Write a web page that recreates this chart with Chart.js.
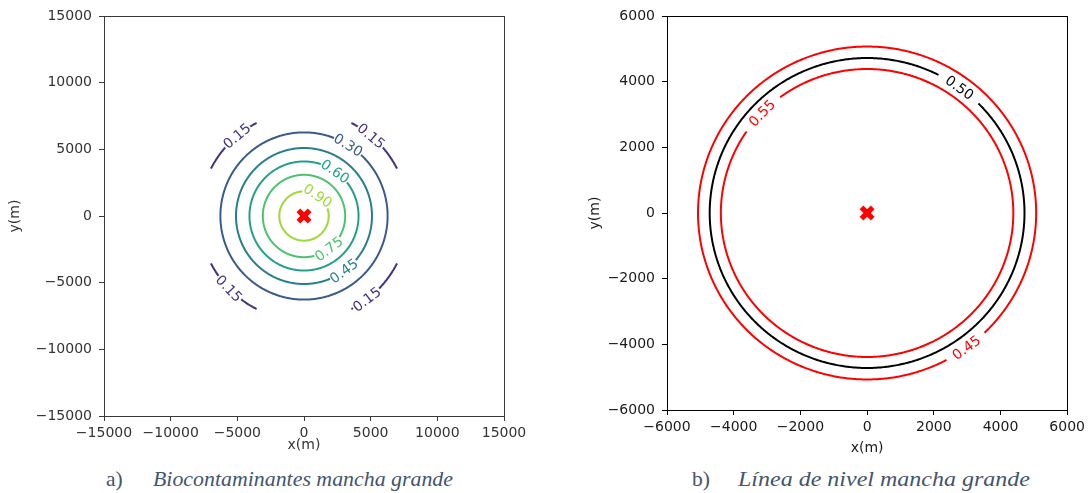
<!DOCTYPE html>
<html>
<head>
<meta charset="utf-8">
<script src="https://cdn.jsdelivr.net/npm/chart.js@4/dist/chart.umd.min.js"></script>
<style>
  html, body { margin: 0; padding: 0; background: #fff; }
  #wrap { position: relative; width: 1089px; height: 493px; overflow: hidden; }
  .panel { position: absolute; top: 0; height: 460px; }
  #pa { left: 0; width: 545px; }
  #pb { left: 545px; width: 544px; }
  .cap { position: absolute; top: 469px; font-family: "Liberation Serif", "Times New Roman", serif;
         font-size: 21.5px; line-height: 1; color: #44546a; white-space: nowrap; transform-origin: 0 50%; }
</style>
</head>
<body>
<div id="wrap">
  <div class="panel" id="pa"><canvas id="chartA"></canvas></div>
  <div class="panel" id="pb"><canvas id="chartB"></canvas></div>
  <div class="cap" style="left:106px">a)</div>
  <div class="cap" style="left:153px" data-w="300"><i>Biocontaminantes mancha grande</i></div>
  <div class="cap" style="left:692px">b)</div>
  <div class="cap" style="left:738px" data-w="292"><i>Línea de nivel mancha grande</i></div>
</div>
<script>
// ---- Panel a: biocontaminant concentration contours ----
const levelsA = [0.15, 0.30, 0.45, 0.60, 0.75, 0.90];
const radiiA = [7830, 6270, 5100, 4090, 3090, 1850];          // contour radius (m)
const labelAnglesA = [[130, 50, -136, -53], [58], [-54], [55], [-53], [56]]; // label position (deg)
const ticksA = [-15000, -10000, -5000, 0, 5000, 10000, 15000];
const domainHalfA = 7000;                                      // half-width of computed grid (m)

// ---- Panel b: level line for the large spill ----
const levelsB = [0.45, 0.50, 0.55];
const radiiB = [5070, 4720, 4385];
const labelAnglesB = [[-54], [54], [136]];
const ticksB = [-6000, -4000, -2000, 0, 2000, 4000, 6000];

// release point
const sourceX = [0];
const sourceY = [0];

// styling
const coloursA = ['#45327d', '#375c8c', '#277f8d', '#22a186', '#4bc26c', '#9fd939'];
const coloursB = ['#ff0000', '#000000', '#ff0000'];

const fmt = v => (v < 0 ? '\u2212' + Math.abs(v) : String(v));

// stretch captions to their set widths
document.querySelectorAll('.cap[data-w]').forEach(el => {
  const w = el.getBoundingClientRect().width;
  el.style.transform = 'scaleX(' + (Number(el.dataset.w) / w) + ')';
});

// filled "X" marker stamp
const xStamp = (() => {
  const c = document.createElement('canvas');
  c.width = 18; c.height = 18;
  const g = c.getContext('2d');
  g.translate(9, 9);
  g.rotate(Math.PI / 4);
  const u = 2.65;
  g.beginPath();
  const p = [[-1,-3],[1,-3],[1,-1],[3,-1],[3,1],[1,1],[1,3],[-1,3],[-1,1],[-3,1],[-3,-1],[-1,-1]];
  p.forEach(([a, b], i) => (i ? g.lineTo(a * u, b * u) : g.moveTo(a * u, b * u)));
  g.closePath();
  g.fillStyle = '#ff0000';
  g.fill();
  return c;
})();

// points along a contour of radius r, cut to the computed square domain
function contourPoints(r, half) {
  const pts = [];
  for (let d = 0; d <= 360; d += 0.5) {
    const a = d * Math.PI / 180;
    const x = r * Math.cos(a), y = r * Math.sin(a);
    if (half && (Math.abs(x) > half + 1e-6 || Math.abs(y) > half + 1e-6)) pts.push({ x: x, y: null });
    else pts.push({ x: x, y: y });
  }
  return pts;
}

function buildContours(levels, radii, angles, colours, half, gapHalf) {
  return levels.map((lv, i) => ({
    label: lv.toFixed(2),
    data: contourPoints(radii[i], half),
    showLine: true,
    pointRadius: 0,
    borderColor: colours[i],
    borderWidth: 2,
    tension: 1e-6,          // keeps the full-precision path (no per-pixel column merging)
    spanGaps: false,
    segment: {
      borderColor: ctx => {
        const { x: xs, y: ys } = ctx.chart.scales;
        const mx = (ctx.p0.x + ctx.p1.x) / 2, my = (ctx.p0.y + ctx.p1.y) / 2;
        for (const deg of angles[i]) {
          const a = deg * Math.PI / 180;
          const lx = xs.getPixelForValue(radii[i] * Math.cos(a));
          const ly = ys.getPixelForValue(radii[i] * Math.sin(a));
          if (Math.hypot(mx - lx, my - ly) < gapHalf) return 'rgba(0,0,0,0)';
        }
        return undefined;
      }
    }
  }));
}

function labelPlugin(levels, radii, angles, colours) {
  return {
    id: 'contourLabels',
    afterDatasetsDraw(chart) {
      const { ctx, scales: { x: xs, y: ys } } = chart;
      ctx.save();
      ctx.font = '14px "DejaVu Sans"';
      ctx.textAlign = 'center';
      ctx.textBaseline = 'middle';
      levels.forEach((lv, i) => {
        angles[i].forEach(deg => {
          const a = deg * Math.PI / 180;
          const px = xs.getPixelForValue(radii[i] * Math.cos(a));
          const py = ys.getPixelForValue(radii[i] * Math.sin(a));
          let t = a + Math.PI / 2;
          while (t > Math.PI / 2) t -= Math.PI;
          while (t <= -Math.PI / 2) t += Math.PI;
          ctx.save();
          ctx.translate(px, py);
          ctx.rotate(-t);
          ctx.fillStyle = colours[i];
          ctx.fillText(lv.toFixed(2), 0, 1);
          ctx.restore();
        });
      });
      ctx.restore();
    }
  };
}

function framePlugin(colour) {
  return {
    id: 'frame',
    afterDatasetsDraw(chart) {
      const { ctx, chartArea: c } = chart;
      ctx.save();
      ctx.strokeStyle = colour;
      ctx.lineWidth = 1;
      ctx.strokeRect(Math.round(c.left) + 0.5, Math.round(c.top) + 0.5,
                     Math.round(c.right - c.left), Math.round(c.bottom - c.top));
      ctx.restore();
    }
  };
}

function axis(tickValues, title, colour, textColour, fitSize, horizontal, titlePad) {
  return {
    type: 'linear',
    position: horizontal ? 'bottom' : 'left',
    min: tickValues[0],
    max: tickValues[tickValues.length - 1],
    afterBuildTicks: s => { s.ticks = tickValues.map(v => ({ value: v })); },
    afterFit: s => { if (horizontal) s.height = fitSize; else s.width = fitSize; },
    ticks: {
      callback: v => fmt(v),
      font: { family: 'DejaVu Sans', size: 14 },
      color: textColour,
      padding: horizontal ? 4 : 7,
      maxRotation: 0,
      autoSkip: false
    },
    grid: { drawOnChartArea: false, drawTicks: true, tickLength: 5, color: colour, lineWidth: 1 },
    border: { display: false },
    title: {
      display: true,
      text: title,
      color: textColour,
      font: { family: 'DejaVu Sans', size: 14 },
      padding: horizontal ? { top: 0, bottom: titlePad } : { top: titlePad, bottom: 0 }
    }
  };
}

function makeChart(id, cfg) {
  const markerDs = {
    label: 'fuente',
    data: sourceX.map((x, i) => ({ x: x, y: sourceY[i] })),
    pointStyle: xStamp,
    pointRadius: 8,
    showLine: false
  };
  return new Chart(document.getElementById(id), {
    type: 'scatter',
    data: { datasets: [markerDs].concat(cfg.datasets) },
    options: {
      responsive: true,
      maintainAspectRatio: false,
      animation: false,
      events: [],
      layout: { autoPadding: false, padding: cfg.padding },
      plugins: { legend: { display: false }, tooltip: { enabled: false } },
      scales: { x: cfg.x, y: cfg.y }
    },
    plugins: [cfg.frame, cfg.labels]
  });
}

makeChart('chartA', {
  datasets: buildContours(levelsA, radiiA, labelAnglesA, coloursA, domainHalfA, 16),
  padding: { top: 16, right: 41, bottom: 0, left: 0 },
  x: axis(ticksA, 'x(m)', '#3a3a3a', '#333333', 44, true, 6.6),
  y: axis(ticksA, 'y(m)', '#3a3a3a', '#333333', 104, false, 7),
  frame: framePlugin('#3a3a3a'),
  labels: labelPlugin(levelsA, radiiA, labelAnglesA, coloursA)
});

makeChart('chartB', {
  datasets: buildContours(levelsB, radiiB, labelAnglesB, coloursB, 0, 24),
  padding: { top: 16, right: 21, bottom: 0, left: 0 },
  x: axis(ticksB, 'x(m)', '#000000', '#1a1a1a', 50, true, 3.6),
  y: axis(ticksB, 'y(m)', '#000000', '#1a1a1a', 122, false, 41.6),
  frame: framePlugin('#000000'),
  labels: labelPlugin(levelsB, radiiB, labelAnglesB, coloursB)
});
</script>
</body>
</html>
